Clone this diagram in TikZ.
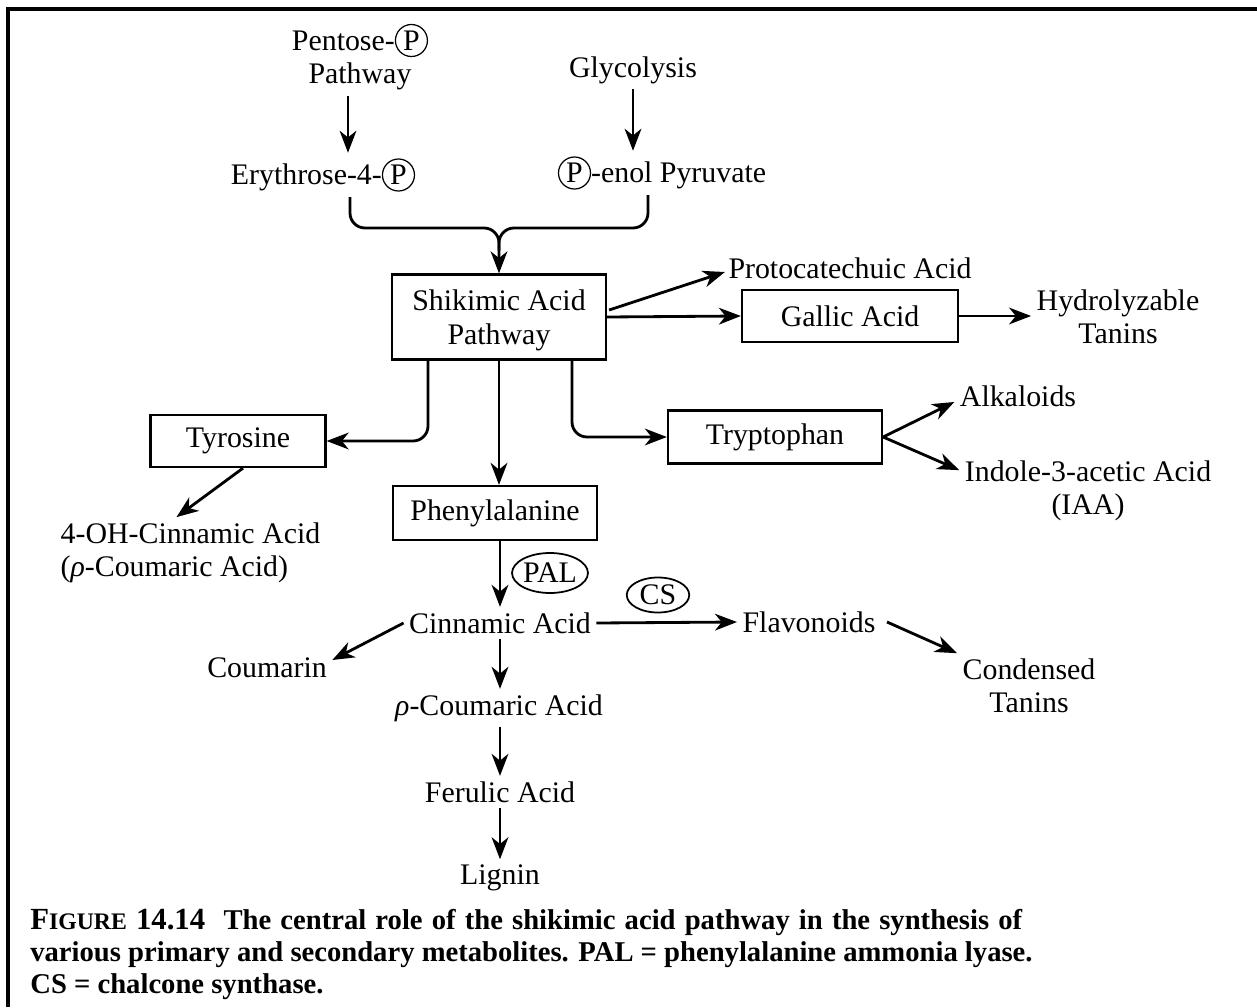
\documentclass[tikz,border=0pt]{standalone}
\usepackage{fontspec}
\setmainfont{Liberation Serif}
\usetikzlibrary{arrows.meta,shapes.geometric,calc}
\newcommand{\circP}{\tikz[baseline]\node[anchor=base,draw,circle,inner sep=1.3pt,line width=0.7pt]{P};}
\tikzset{
  txt/.style={inner sep=3pt, align=center},
  box/.style={draw, line width=1.3pt, inner sep=2pt, align=center},
  arr/.style={line width=1.6pt, -{Stealth[length=12.5pt,width=9.5pt,inset=3.8pt]}},
  ln/.style={line width=1.6pt},
  enz/.style={draw, ellipse, line width=1pt, inner sep=0pt},
}
\begin{document}
\begin{tikzpicture}[x=0.02cm, y=-0.02cm, every node/.style={font=\fontsize{17}{19}\selectfont}]
\useasboundingbox (0,0) rectangle (1257,1007);
\draw[line width=2.3pt] (8,1007) -- (8,9) -- (1257,9);

% nodes
\node[txt] (pent) at (360,57) {Pentose-\circP\\Pathway};
\node[txt] (glyc) at (633,70) {Glycolysis};
\node[txt] (ery) at (323,175) {Erythrose-4-\circP};
\node[txt] (pep) at (662,173) {\circP-enol Pyruvate};
\node[box, minimum width=4.28cm, minimum height=1.70cm, text depth=0pt] (shik) at (499,317) {Shikimic Acid\\Pathway};
\node[txt] (proto) at (850,268) {Protocatechuic Acid};
\node[box, minimum width=4.32cm, minimum height=1.04cm] (gall) at (850,316) {Gallic Acid};
\node[txt] (hydro) at (1118,317) {Hydrolyzable\\Tanins};
\node[box, minimum width=3.5cm, minimum height=1.04cm] (tyr) at (238,441) {Tyrosine};
\node[box, minimum width=4.28cm, minimum height=1.06cm] (tryp) at (775,437) {Tryptophan};
\node[txt] (alk) at (1018,396) {Alkaloids};
\node[txt] (iaa) at (1088,491) {Indole-3-acetic Acid\\(IAA)};
\node[txt, align=left, anchor=west] (ohc) at (55,553) {4-OH-Cinnamic Acid\\(\textit{ρ}-Coumaric Acid)};
\node[box, minimum width=4.08cm, minimum height=1.08cm] (phe) at (495,513) {Phenylalanine};
\node[enz, minimum width=1.5cm, minimum height=0.8cm] (pal) at (550,573) {PAL};
\node[txt] (cin) at (500,623) {Cinnamic Acid};
\node[enz, minimum width=1.25cm, minimum height=0.7cm] (cs) at (658,595) {CS};
\node[txt] (flav) at (809,622) {Flavonoids};
\node[txt] (cond) at (1029,686) {Condensed\\Tanins};
\node[txt] (coum) at (267,668) {Coumarin};
\node[txt] (pcou) at (499,708) {\textit{ρ}-Coumaric Acid};
\node[txt] (fer) at (500,792) {Ferulic Acid};
\node[txt] (lig) at (500,878) {Lignin};
\node[anchor=north west, align=left, inner sep=0pt, font=\bfseries\fontsize{16.3}{18.2}\selectfont] (cap) at (30,909)
  {\makebox[19.84cm][s]{{\fontsize{17.5}{18}\selectfont F}{\fontsize{13.5}{18}\selectfont IGURE}\ {\fontsize{17.5}{18}\selectfont 14.14}\ \ The central role of the shikimic acid pathway in the synthesis of}\\
   various primary and secondary metabolites. PAL = phenylalanine ammonia lyase.\\
   CS = chalcone synthase.};

% helper coordinates
\coordinate (bx1) at (350,0);
\coordinate (bx2) at (648,0);
\coordinate (mrg) at (499,228);
\coordinate (bl) at (428,0);
\coordinate (br) at (572,0);

% connectors
\draw[arr] ($(pent.south)+(-12,0)$) -- ($(pent.south |- ery.north)+(-12,0)$);
\draw[arr] (glyc.south) -- (glyc.south |- pep.north);
\draw[arr, rounded corners=0.3cm] (ery.south -| bx1) |- (mrg) -- (shik.north);
\draw[ln, rounded corners=0.3cm] (pep.south -| bx2) |- (mrg) -- ($(mrg)!0.5!(shik.north)$);
\draw[arr] ($(shik.east)+(2,-7)$) -- ($(proto.west)+(2,4)$);
\draw[arr] (shik.east) -- (gall.west);
\draw[arr] (gall.east) -- (hydro.west |- gall.east);
\draw[arr, rounded corners=0.3cm] (shik.south -| bl) |- (tyr.east);
\draw[arr] (shik.south) -- (shik.south |- phe.north);
\draw[arr, rounded corners=0.3cm] (shik.south -| br) |- (tryp.west);
\draw[arr] (tryp.east) -- ($(alk.west)+(0,6)$);
\draw[arr] (tryp.east) -- ($(iaa.north west)+(0,15)$);
\draw[arr] ($(tyr.south)+(5,0)$) -- ($(ohc.north)+(-14,0)$);
\draw[arr] (cin.north |- phe.south) -- (cin.north);
\draw[arr] (cin.east) -- (flav.west);
\draw[arr] ($(flav.east)+(6,0)$) -- (cond.north west);
\draw[arr] (cin.west) -- ($(coum.east)+(0,-8)$);
\draw[arr] (cin.south) -- (cin.south |- pcou.north);
\draw[arr] (cin.south |- pcou.south) -- (cin.south |- fer.north);
\draw[arr] (cin.south |- fer.south) -- (cin.south |- lig.north);
\end{tikzpicture}
\end{document}
